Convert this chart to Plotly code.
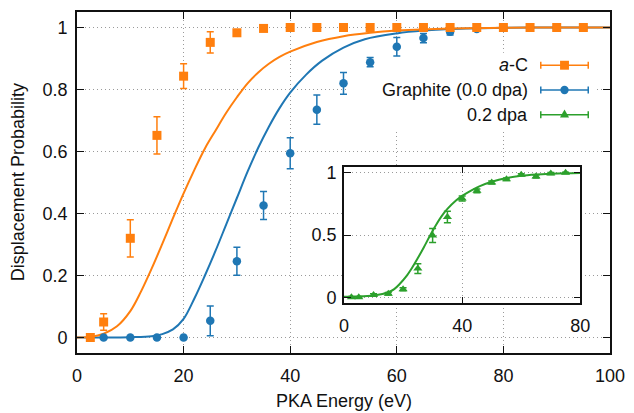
import plotly.graph_objects as go

# ---- measured displacement probabilities ----
ac_energy = [2.5, 5, 10, 15, 20, 25, 30, 35, 40, 45, 50, 55, 60, 65, 70, 75, 80, 85, 90, 95]
ac_prob = [0.0, 0.05, 0.32, 0.652, 0.843, 0.952, 0.983, 0.997, 1.0, 1.0, 1.0, 1.0, 1.0, 1.0,
           1.0, 1.0, 1.0, 1.0, 1.0, 1.0]
ac_err = [0.005, 0.027, 0.06, 0.06, 0.04, 0.034, 0.008, 0.005, 0.0, 0.0, 0.0, 0.0, 0.0, 0.0,
          0.0, 0.0, 0.0, 0.0, 0.0, 0.0]

gr_energy = [5, 10, 15, 20, 25, 30, 35, 40, 45, 50, 55, 60, 65, 70, 75, 80, 85, 90, 95]
gr_prob = [0.0, 0.0, 0.0, 0.0, 0.054, 0.246, 0.426, 0.594, 0.735, 0.82, 0.888, 0.938, 0.966,
           0.986, 0.995, 1.0, 1.0, 1.0, 1.0]
gr_err = [0.0, 0.0, 0.0, 0.0, 0.048, 0.045, 0.045, 0.05, 0.047, 0.035, 0.015, 0.03, 0.015,
          0.01, 0.005, 0.0, 0.0, 0.0, 0.0]

dpa_energy = [2.5, 5, 10, 15, 20, 25, 30, 35, 40, 45, 50, 55, 60, 65, 70, 75]
dpa_prob = [0.0, 0.0, 0.018, 0.027, 0.064, 0.23, 0.497, 0.645, 0.794, 0.856, 0.922, 0.949,
            0.984, 0.97, 0.994, 1.0]
dpa_err = [0.005, 0.005, 0.01, 0.01, 0.012, 0.04, 0.056, 0.047, 0.02, 0.015, 0.012, 0.01,
           0.008, 0.012, 0.008, 0.005]

# ---- fitted curves, sampled ----
ac_fit_e = [0, 2.5, 5, 7.5, 10, 12, 14, 16, 18, 20, 22, 24, 26, 28, 30, 32, 34, 36, 38, 40,
            45, 50, 55, 60, 70, 80, 90, 100]
ac_fit_p = [0.0, 0.002, 0.012, 0.036, 0.085, 0.148, 0.222, 0.302, 0.385, 0.465, 0.54, 0.61,
            0.668, 0.725, 0.775, 0.82, 0.855, 0.883, 0.905, 0.922, 0.953, 0.972, 0.983, 0.99,
            0.997, 0.999, 1.0, 1.0]

gr_fit_e = [0, 5, 10, 14, 16, 18, 20, 22, 24, 26, 28, 30, 32, 34, 36, 38, 40, 43, 46, 50, 54,
            60, 65, 70, 80, 90, 100]
gr_fit_p = [0.0, 0.0, 0.001, 0.004, 0.011, 0.026, 0.06, 0.125, 0.2, 0.28, 0.365, 0.45, 0.535,
            0.612, 0.68, 0.74, 0.79, 0.848, 0.893, 0.935, 0.962, 0.981, 0.99, 0.995, 0.999,
            1.0, 1.0]

dpa_fit_e = [0, 5, 10, 13, 15, 17, 19, 21, 23, 25, 27, 29, 31, 33, 35, 38, 40, 43, 46, 50, 55,
             60, 65, 70, 75, 80]
dpa_fit_p = [0.003, 0.006, 0.014, 0.026, 0.04, 0.065, 0.11, 0.165, 0.235, 0.315, 0.4, 0.49,
             0.575, 0.65, 0.71, 0.78, 0.815, 0.858, 0.893, 0.928, 0.958, 0.976, 0.986, 0.992,
             0.996, 0.998]

main_xticks = [0, 20, 40, 60, 80, 100]
main_yticks = [0, 0.2, 0.4, 0.6, 0.8, 1]
inset_xticks = [0, 40, 80]
inset_yticks = [0, 0.5, 1]

legend_labels = ["<i>a</i>-C", "Graphite (0.0 dpa)", "0.2 dpa"]

ORANGE = "#ff7f0e"
BLUE = "#1f77b4"
GREEN = "#2ca02c"
FONT = "Liberation Sans, Arial, Helvetica, sans-serif"
INK = "#111111"

W, H = 634, 413
L, R, T, B = 77, 616, 9, 353  # plot area in pixels


def fx(px):
    return (px - L) / (R - L)


def fy(py):
    return (B - py) / (B - T)


fig = go.Figure()

curve_line = dict(width=2, shape="spline", smoothing=1.0)

# fitted curves (main axes)
fig.add_trace(go.Scatter(x=gr_fit_e, y=gr_fit_p, mode="lines", line=dict(curve_line, color=BLUE),
                         hoverinfo="skip", showlegend=False))
fig.add_trace(go.Scatter(x=ac_fit_e, y=ac_fit_p, mode="lines", line=dict(curve_line, color=ORANGE),
                         hoverinfo="skip", showlegend=False))

# measured points with error bars
fig.add_trace(go.Scatter(x=gr_energy, y=gr_prob, mode="markers", name=legend_labels[1],
                         marker=dict(symbol="circle", size=8.5, color=BLUE),
                         error_y=dict(type="data", array=gr_err, color=BLUE, thickness=1.5, width=3.5),
                         showlegend=False))
fig.add_trace(go.Scatter(x=ac_energy, y=ac_prob, mode="markers", name=legend_labels[0],
                         marker=dict(symbol="square", size=9, color=ORANGE),
                         error_y=dict(type="data", array=ac_err, color=ORANGE, thickness=1.5, width=3.5),
                         showlegend=False))

# inset: 0.2 dpa
fig.add_trace(go.Scatter(x=dpa_fit_e, y=dpa_fit_p, mode="lines", xaxis="x2", yaxis="y2",
                         line=dict(curve_line, color=GREEN),
                         hoverinfo="skip", showlegend=False))
fig.add_trace(go.Scatter(x=dpa_energy, y=dpa_prob, mode="markers", xaxis="x2", yaxis="y2",
                         name=legend_labels[2],
                         marker=dict(symbol="triangle-up", size=8, color=GREEN),
                         error_y=dict(type="data", array=dpa_err, color=GREEN, thickness=1.5, width=3.5),
                         showlegend=False))

axis_common = dict(
    showline=True, linecolor=INK, linewidth=1.6, mirror="allticks",
    ticks="inside", ticklen=7, tickwidth=1.2, tickcolor=INK,
    showgrid=True, gridcolor="#9a9a9a", gridwidth=1, griddash="1px,3px",
    zeroline=False, tickfont=dict(family=FONT, size=18, color=INK),
)

inset_x0, inset_x1 = 347, 586
inset_top, inset_bot = 165, 303

fig.update_layout(
    width=W, height=H,
    margin=dict(l=L, r=W - R, t=T, b=H - B),
    paper_bgcolor="white", plot_bgcolor="white",
    font=dict(family=FONT, size=18, color=INK),
    showlegend=False,
    xaxis=dict(axis_common, range=[0, 100], tickvals=main_xticks, domain=[0, 1], anchor="y",
               ticklabelstandoff=6),
    yaxis=dict(axis_common, range=[-0.05, 1.05], tickvals=main_yticks,
               ticktext=[f"{v:g}" for v in main_yticks], domain=[0, 1], anchor="x",
               ticklabelstandoff=4),
    xaxis2=dict(axis_common, range=[0, 80], tickvals=inset_xticks, anchor="y2",
                domain=[fx(inset_x0), fx(inset_x1)], ticklabelstandoff=5),
    yaxis2=dict(axis_common, range=[-0.05, 1.05], tickvals=inset_yticks,
                ticktext=[f"{v:g}" for v in inset_yticks], anchor="x2",
                domain=[fy(inset_bot), fy(inset_top)], ticklabelstandoff=2),
)

shapes = []
# opaque inset background
shapes.append(dict(type="rect", xref="x2 domain", yref="y2 domain", x0=0, x1=1, y0=0, y1=1,
                   fillcolor="white", line=dict(width=0), layer="below"))


# key box: hides grid but sits under the data
def px_to_x(px):
    return (px - L) / (R - L) * 100


def py_to_y(py):
    return 1.05 - (py - T) / (B - T) * 1.1


shapes.append(dict(type="rect", xref="x", yref="y", x0=px_to_x(352), x1=px_to_x(600),
                   y0=py_to_y(127), y1=py_to_y(50), fillcolor="white", line=dict(width=0),
                   layer="between"))

annotations = []
rows = [62.7, 87.7, 112.7]
colors = [ORANGE, BLUE, GREEN]
sx0, sx1, sxm = 546, 594, 570
for label, row, col, kind in zip(legend_labels, rows, colors, ["square", "circle", "triangle"]):
    annotations.append(dict(xref="paper", yref="paper", x=fx(535), y=fy(row), text=label,
                            showarrow=False, xanchor="right", yanchor="middle",
                            font=dict(family=FONT, size=18, color=INK)))
    line = dict(color=col, width=1.5)
    shapes.append(dict(type="line", xref="paper", yref="paper", x0=fx(sx0), x1=fx(sx1),
                       y0=fy(row), y1=fy(row), line=line, layer="above"))
    for cx in (sx0, sx1):
        shapes.append(dict(type="line", xref="paper", yref="paper", x0=fx(cx), x1=fx(cx),
                           y0=fy(row - 3.5), y1=fy(row + 3.5), line=line, layer="above"))
    if kind == "square":
        shapes.append(dict(type="rect", xref="paper", yref="paper", x0=fx(sxm - 4.5), x1=fx(sxm + 4.5),
                           y0=fy(row + 4.5), y1=fy(row - 4.5), fillcolor=col, line=dict(width=0),
                           layer="above"))
    elif kind == "circle":
        shapes.append(dict(type="circle", xref="paper", yref="paper", x0=fx(sxm - 4.2), x1=fx(sxm + 4.2),
                           y0=fy(row + 4.2), y1=fy(row - 4.2), fillcolor=col, line=dict(width=0),
                           layer="above"))
    else:
        path = (f"M {fx(sxm - 4.6)} {fy(row + 2.7)} L {fx(sxm + 4.6)} {fy(row + 2.7)} "
                f"L {fx(sxm)} {fy(row - 5.3)} Z")
        shapes.append(dict(type="path", xref="paper", yref="paper", path=path, fillcolor=col,
                           line=dict(width=0), layer="above"))

# axis titles
annotations.append(dict(xref="paper", yref="paper", x=fx(346.5), y=fy(401), text="PKA Energy (eV)",
                        showarrow=False, xanchor="center", yanchor="middle",
                        font=dict(family=FONT, size=18, color=INK)))
annotations.append(dict(xref="paper", yref="paper", x=fx(17), y=fy(181), text="Displacement Probability",
                        showarrow=False, xanchor="center", yanchor="middle", textangle=-90,
                        font=dict(family=FONT, size=18, color=INK)))

fig.update_layout(shapes=shapes, annotations=annotations)

fig.write_html("out.html")
